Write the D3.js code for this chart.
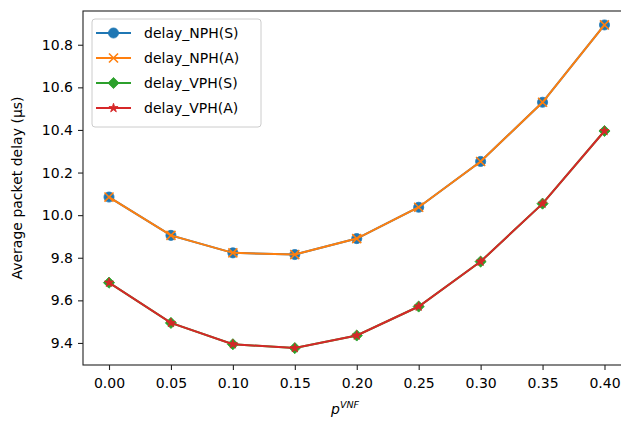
<!DOCTYPE html>
<html>
<head>
<meta charset="utf-8">
<script src="https://cdn.jsdelivr.net/npm/d3@7"></script>
<style>
  body { margin: 0; background: #fff; }
  text { font-family: "DejaVu Sans", sans-serif; fill: #000; }
</style>
</head>
<body>
<svg id="chart" width="621" height="421"></svg>
<script>
const pValues = [0.0, 0.05, 0.1, 0.15, 0.2, 0.25, 0.3, 0.35, 0.4];
const delayNphS = [10.085, 9.905, 9.823, 9.815, 9.89, 10.037, 10.252, 10.53, 10.893];
const delayNphA = [10.085, 9.905, 9.823, 9.815, 9.89, 10.037, 10.252, 10.53, 10.893];
const delayVphS = [9.683, 9.494, 9.394, 9.376, 9.435, 9.571, 9.782, 10.054, 10.395];
const delayVphA = [9.683, 9.494, 9.394, 9.376, 9.435, 9.571, 9.782, 10.054, 10.395];
const seriesNames = ["delay_NPH(S)", "delay_NPH(A)", "delay_VPH(S)", "delay_VPH(A)"];
const xTicks = [0.0, 0.05, 0.1, 0.15, 0.2, 0.25, 0.3, 0.35, 0.4];
const yTicks = [9.4, 9.6, 9.8, 10.0, 10.2, 10.4, 10.6, 10.8];

const series = [
  { name: seriesNames[0], values: delayNphS, color: "#1f77b4", marker: "circle" },
  { name: seriesNames[1], values: delayNphA, color: "#ff7f0e", marker: "x" },
  { name: seriesNames[2], values: delayVphS, color: "#2ca02c", marker: "diamond" },
  { name: seriesNames[3], values: delayVphA, color: "#d62728", marker: "star" },
];

const svg = d3.select("#chart");
const M_LEFT = 83, M_RIGHT = 631, M_TOP = 11, M_BOTTOM = 365;

const x = d3.scaleLinear().domain([-0.021, 0.4214]).range([M_LEFT, M_RIGHT]);
const y = d3.scaleLinear().domain([9.2965, 10.9584]).range([M_BOTTOM, M_TOP]);

// axes
const xAxis = svg.append("g")
  .attr("transform", `translate(0,${M_BOTTOM})`)
  .call(d3.axisBottom(x).tickValues(xTicks).tickFormat(d3.format(".2f")).tickSizeOuter(0).tickSize(5).tickPadding(5));
const yAxis = svg.append("g")
  .attr("transform", `translate(${M_LEFT},0)`)
  .call(d3.axisLeft(y).tickValues(yTicks).tickFormat(d3.format(".1f")).tickSizeOuter(0).tickSize(5).tickPadding(5));
[xAxis, yAxis].forEach((a) => {
  a.selectAll("text").style("font-size", "14px").style("font-family", "DejaVu Sans").attr("fill", "#222");
  a.selectAll("line").attr("stroke", "#222").attr("stroke-width", 1.1);
  a.select(".domain").remove();
});
xAxis.selectAll("text").attr("dy", "0.9em");

// frame
svg.append("rect")
  .attr("x", M_LEFT).attr("y", M_TOP)
  .attr("width", M_RIGHT - M_LEFT).attr("height", M_BOTTOM - M_TOP)
  .attr("fill", "none").attr("stroke", "#222").attr("stroke-width", 1.1);

const symbolFor = (m) => {
  if (m === "circle") return d3.symbol().type(d3.symbolCircle).size(80)();
  if (m === "diamond") return d3.symbol().type(d3.symbolSquare).size(62)();
  if (m === "star") return d3.symbol().type(d3.symbolStar).size(26)();
  return d3.symbol().type(d3.symbolX).size(55)();
};

const line = d3.line().x((d, i) => x(pValues[i])).y((d) => y(d));

const drawMarker = (g, s, cx, cy) => {
  const p = g.append("path")
    .attr("d", symbolFor(s.marker))
    .attr("transform", `translate(${cx},${cy})${s.marker === "diamond" ? " rotate(45)" : ""}`);
  if (s.marker === "x") {
    p.attr("fill", "none").attr("stroke", s.color).attr("stroke-width", 1.6);
  } else {
    p.attr("fill", s.color).attr("stroke", s.color).attr("stroke-width", 0.8);
  }
};

series.forEach((s) => {
  const g = svg.append("g");
  g.append("path")
    .attr("d", line(s.values))
    .attr("fill", "none")
    .attr("stroke", s.color)
    .attr("stroke-width", 2);
  s.values.forEach((v, i) => drawMarker(g, s, x(pValues[i]), y(v)));
});

// legend
const legend = svg.append("g");
legend.append("rect")
  .attr("x", 92).attr("y", 19).attr("width", 169).attr("height", 108)
  .attr("rx", 3).attr("fill", "#fff").attr("fill-opacity", 0.85)
  .attr("stroke", "#ccc").attr("stroke-width", 1);
series.forEach((s, i) => {
  const ly = 33 + i * 25;
  legend.append("line")
    .attr("x1", 96).attr("x2", 131).attr("y1", ly).attr("y2", ly)
    .attr("stroke", s.color).attr("stroke-width", 2);
  drawMarker(legend, s, 113.5, ly);
  legend.append("text")
    .attr("x", 144).attr("y", ly).attr("dy", "0.35em")
    .style("font-size", "14px").attr("fill", "#222")
    .text(s.name);
});

// axis labels
svg.append("text")
  .attr("transform", `translate(22,${(M_TOP + M_BOTTOM) / 2}) rotate(-90)`)
  .attr("text-anchor", "middle")
  .style("font-size", "14px").attr("fill", "#222")
  .text("Average packet delay (µs)");

const xl = svg.append("text")
  .attr("x", 345).attr("y", 414)
  .attr("text-anchor", "middle")
  .style("font-size", "14px").style("font-style", "italic").attr("fill", "#222");
xl.append("tspan").text("p");
xl.append("tspan").attr("dy", -6).style("font-size", "9.5px").text("VNF");
</script>
</body>
</html>
